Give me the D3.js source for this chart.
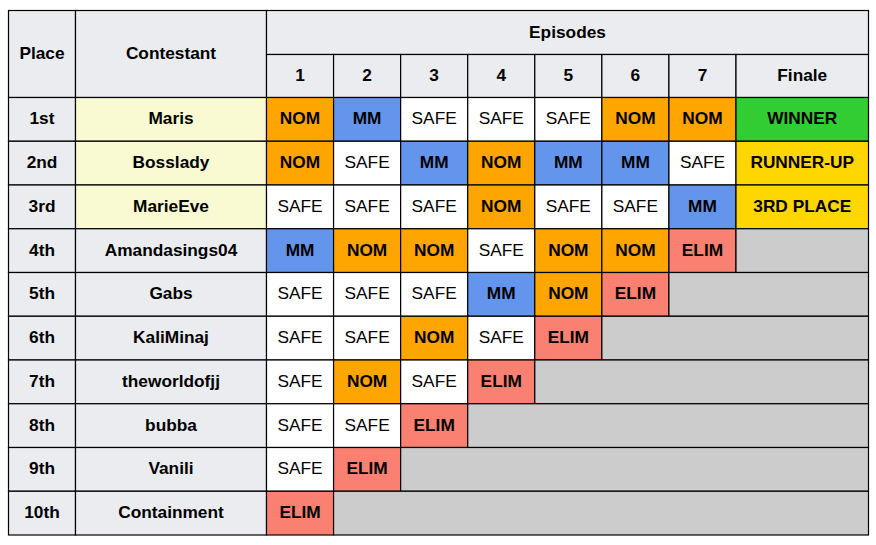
<!DOCTYPE html>
<html>
<head>
	<script src="https://cdnjs.cloudflare.com/ajax/libs/d3/7.8.5/d3.min.js"></script>
	<title>Episodes table</title>
	<style>
		body { margin: 0; background: #fff; }
		text { font-family: "Liberation Sans", Arial, sans-serif; font-size: 17.3px; }
	</style>
</head>
<body>
	<svg id="SVG" width="876" height="545"></svg>
	<script>
		// data
		var places = ["1st","2nd","3rd","4th","5th","6th","7th","8th","9th","10th"];
		var contestants = ["Maris","Bosslady","MarieEve","Amandasings04","Gabs","KaliMinaj","theworldofjj","bubba","Vanili","Containment"];
		var episodes = ["1","2","3","4","5","6","7"];
		var finalists = ["Maris","Bosslady","MarieEve"];
		var results = [
			["NOM","MM","SAFE","SAFE","SAFE","NOM","NOM"],
			["NOM","SAFE","MM","NOM","MM","MM","SAFE"],
			["SAFE","SAFE","SAFE","NOM","SAFE","SAFE","MM"],
			["MM","NOM","NOM","SAFE","NOM","NOM","ELIM"],
			["SAFE","SAFE","SAFE","MM","NOM","ELIM"],
			["SAFE","SAFE","NOM","SAFE","ELIM"],
			["SAFE","NOM","SAFE","ELIM"],
			["SAFE","SAFE","ELIM"],
			["SAFE","ELIM"],
			["ELIM"]
		];
		var finaleResults = ["WINNER","RUNNER-UP","3RD PLACE"];

		var colors = {
			"NOM": "#ffa500", "MM": "#6495ed", "SAFE": "#ffffff", "ELIM": "#fa8072",
			"WINNER": "#32cd32", "RUNNER-UP": "#ffd700", "3RD PLACE": "#ffd700"
		};

		var svg = d3.select("#SVG");
		var layer = svg.append("g");

		// layout (note: "top" is taken by window.top)
		var tLeft = 8.5, tTop = 10.5, tRight = 868.5, tBottom = 535;
		var placeRight = 75.5, contRight = 266.5, epRight = 736;
		var head1 = 54.5, head2 = 97.5;
		var headBg = "#eaecf0", finalistBg = "#fafad2", emptyBg = "#cccccc";

		var x = d3.scaleBand().domain(episodes).range([contRight, epRight]);
		var y = d3.scaleBand().domain(contestants).range([head2, tBottom]);

		var cells = [];
		function cell(x0, y0, x1, y1, fill, label, bold) {
			cells.push({x0: x0, y0: y0, x1: x1, y1: y1, fill: fill, label: label, bold: bold});
		}

		// header
		cell(tLeft, tTop, placeRight, head2, headBg, "Place", true);
		cell(placeRight, tTop, contRight, head2, headBg, "Contestant", true);
		cell(contRight, tTop, tRight, head1, headBg, "Episodes", true);
		episodes.forEach(function(e) {
			cell(x(e), head1, x(e) + x.bandwidth(), head2, headBg, e, true);
		});
		cell(epRight, head1, tRight, head2, headBg, "Finale", true);

		// rows
		contestants.forEach(function(c, i) {
			var y0 = y(c), y1 = y(c) + y.bandwidth();
			cell(tLeft, y0, placeRight, y1, headBg, places[i], true);
			cell(placeRight, y0, contRight, y1, finalists.indexOf(c) >= 0 ? finalistBg : headBg, c, true);
			results[i].forEach(function(r, j) {
				var e = episodes[j];
				cell(x(e), y0, x(e) + x.bandwidth(), y1, colors[r], r, r != "SAFE");
			});
			if (i < finaleResults.length) {
				cell(epRight, y0, tRight, y1, colors[finaleResults[i]], finaleResults[i], true);
			} else {
				var lastEp = episodes[results[i].length - 1];
				cell(x(lastEp) + x.bandwidth(), y0, tRight, y1, emptyBg, "", false);
			}
		});

		var g = layer.selectAll("g.cell").data(cells).enter().append("g").attr("class", "cell");
		g.append("rect")
			.attr("x", d => d.x0).attr("y", d => d.y0)
			.attr("width", d => d.x1 - d.x0).attr("height", d => d.y1 - d.y0)
			.attr("fill", d => d.fill)
			.attr("stroke", "#000")
			.attr("stroke-width", 1.2);
		g.append("text")
			.attr("x", d => (d.x0 + d.x1) / 2)
			.attr("y", d => (d.y0 + d.y1) / 2)
			.attr("dy", "0.29em")
			.attr("text-anchor", "middle")
			.attr("font-weight", d => d.bold ? "bold" : "normal")
			.attr("fill", "#000")
			.text(d => d.label);
	</script>
</body>
</html>
